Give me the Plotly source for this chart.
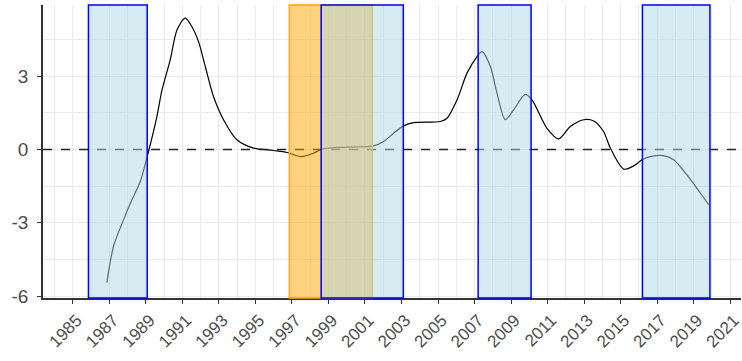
import plotly.graph_objects as go

years = [1986.86, 1987.22, 1987.77, 1988.23, 1988.69, 1989.14, 1989.6, 1989.88,
         1990.33, 1990.7, 1991.15, 1991.52, 1991.88, 1992.25, 1992.7, 1993.25,
         1993.98, 1994.9, 1995.99, 1996.73, 1997.5, 1998.18, 1998.64, 2000.0,
         2001.47, 2002.02, 2002.57, 2003.12, 2003.66, 2005.13, 2005.49, 2006.04,
         2006.59, 2007.14, 2007.41, 2007.87, 2008.23, 2008.69, 2009.14, 2009.78,
         2010.15, 2010.97, 2011.61, 2012.25, 2012.98, 2013.53, 2014.07, 2014.44,
         2015.17, 2015.72, 2016.18, 2016.64, 2017.36, 2017.91, 2018.64, 2019.37,
         2019.83]
values = [-5.45, -3.97, -2.88, -2.06, -1.31, -0.08, 1.35, 2.44,
          3.67, 4.9, 5.38, 5.03, 4.42, 3.40, 2.17, 1.22,
          0.40, 0.06, -0.04, -0.12, -0.29, -0.15, 0.02, 0.10,
          0.15, 0.33, 0.67, 0.97, 1.10, 1.15, 1.28, 2.03,
          3.13, 3.81, 4.01, 3.40, 2.31, 1.22, 1.62, 2.26,
          2.03, 0.87, 0.44, 0.94, 1.22, 1.17, 0.74, 0.06,
          -0.80, -0.67, -0.42, -0.29, -0.25, -0.42, -1.04, -1.78,
          -2.26]

orange_start = [1996.85]
orange_end = [2001.4]
blue_start = [1985.85, 1998.6, 2007.2, 2016.2]
blue_end = [1989.07, 2003.1, 2010.1, 2019.9]

y_tickvals = [-6, -3, 0, 3]
y_ticktext = ["-6", "-3", "0", "3"]
y_minor = [-4.5, -1.5, 1.5, 4.5]

fig = go.Figure()
fig.add_trace(go.Scatter(x=years, y=values, mode="lines",
                         line=dict(color="black", width=1.2, shape="spline", smoothing=0.8),
                         showlegend=False, hoverinfo="skip"))

shapes = []
shapes.append(dict(type="line", xref="paper", x0=0, x1=1, yref="y", y0=0, y1=0,
                   line=dict(color="#222222", width=1.4, dash="dash"), layer="above"))
for s, e in zip(orange_start, orange_end):
    shapes.append(dict(type="rect", xref="x", x0=s, x1=e, yref="y domain", y0=0, y1=1,
                       fillcolor="rgba(255,165,0,0.5)", line=dict(color="#FFA500", width=1.3),
                       layer="above"))
for s, e in zip(blue_start, blue_end):
    shapes.append(dict(type="rect", xref="x", x0=s, x1=e, yref="y domain", y0=0, y1=1,
                       fillcolor="rgba(173,216,230,0.5)", line=dict(color="#0000FF", width=1.5),
                       layer="above"))
fig.update_layout(shapes=shapes)

grid = "#EBEBEB"
fig.update_layout(
    width=742, height=361,
    margin=dict(l=43, r=1, t=5, b=63),
    plot_bgcolor="white", paper_bgcolor="white",
    font=dict(family="Liberation Sans, Arial, sans-serif", size=17, color="#4D4D4D"),
    xaxis=dict(range=[1983.36, 2021.6], tick0=1985, dtick=2, tickangle=-45,
               automargin=False,
               showgrid=True, gridcolor=grid, gridwidth=1,
               minor=dict(dtick=1, tick0=1984, showgrid=True, gridcolor=grid, gridwidth=1),
               showline=True, linecolor="#333333", linewidth=1.5,
               ticks="outside", ticklen=4, tickcolor="#333333", tickwidth=1.1,
               ticklabelshift=4, ticklabelstandoff=0, ticklabeloverflow="allow",
               zeroline=False, tickfont=dict(size=17, color="#4D4D4D")),
    yaxis=dict(range=[-6.08, 5.92], tickmode="array", tickvals=y_tickvals, ticktext=y_ticktext,
               automargin=False,
               showgrid=True, gridcolor=grid, gridwidth=1,
               minor=dict(tickmode="array", tickvals=y_minor, showgrid=True, gridcolor=grid, gridwidth=1),
               showline=True, linecolor="#333333", linewidth=1.5,
               ticks="outside", ticklen=4, tickcolor="#333333", tickwidth=1.1,
               ticklabelstandoff=5,
               zeroline=False, tickfont=dict(size=19, color="#4D4D4D")),
)

fig.write_html("out.html")
